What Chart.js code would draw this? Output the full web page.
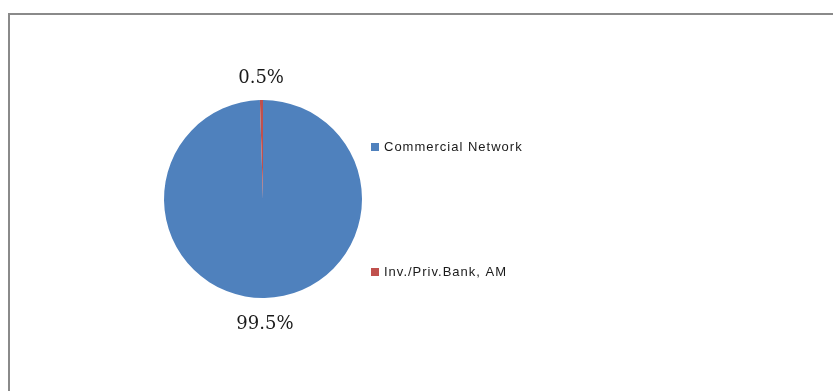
<!DOCTYPE html>
<html>
<head>
<meta charset="utf-8">
<script src="https://cdn.jsdelivr.net/npm/chart.js@4/dist/chart.umd.min.js"></script>
<style>
  html, body { margin: 0; padding: 0; background: #ffffff; }
  #wrap { width: 833px; height: 391px; position: relative; }
</style>
</head>
<body>
<div id="wrap"><canvas id="c" width="833" height="391"></canvas></div>
<script>
const categories = ["Commercial Network", "Inv./Priv.Bank, AM"];
const shares = [99.5, 0.5];
const colors = ["#4F81BD", "#C0504D"];

const overlay = {
  id: 'overlay',
  afterDraw(chart) {
    const ctx = chart.ctx;
    ctx.save();
    // frame
    ctx.strokeStyle = '#8a8a8a';
    ctx.lineWidth = 2;
    ctx.beginPath();
    ctx.moveTo(9, 391);
    ctx.lineTo(9, 14);
    ctx.lineTo(833, 14);
    ctx.stroke();

    // percentage labels outside arcs
    const meta = chart.getDatasetMeta(0);
    const total = shares.reduce((a, b) => a + b, 0);
    ctx.font = '18px "DejaVu Serif"';
    ctx.fillStyle = '#1a1a1a';
    ctx.textAlign = 'center';
    ctx.textBaseline = 'middle';
    meta.data.forEach((arc, i) => {
      const p = arc.getProps(['x', 'y', 'startAngle', 'endAngle', 'outerRadius'], true);
      const mid = (p.startAngle + p.endAngle) / 2;
      const r = p.outerRadius + 24;
      const txt = (shares[i] / total * 100).toFixed(1) + '%';
      ctx.fillText(txt, p.x + Math.cos(mid) * r, p.y + Math.sin(mid) * r + 2.5);
    });

    // legend
    const legendY = [147, 272];
    ctx.font = '13px "Liberation Sans", Arial, sans-serif';
    ctx.letterSpacing = '1px';
    ctx.textAlign = 'left';
    ctx.textBaseline = 'middle';
    categories.forEach((name, i) => {
      ctx.fillStyle = colors[i];
      ctx.fillRect(371, legendY[i] - 4, 8, 8);
      ctx.fillStyle = '#1a1a1a';
      ctx.fillText(name, 384, legendY[i] + 0.5);
    });
    ctx.restore();
  }
};

new Chart(document.getElementById('c'), {
  type: 'pie',
  data: {
    labels: categories,
    datasets: [{
      data: shares,
      backgroundColor: colors,
      borderWidth: 0
    }]
  },
  options: {
    responsive: false,
    animation: false,
    layout: { padding: { left: 164, top: 100, right: 471, bottom: 93 } },
    plugins: {
      legend: { display: false },
      tooltip: { enabled: false }
    }
  },
  plugins: [overlay]
});
</script>
</body>
</html>
